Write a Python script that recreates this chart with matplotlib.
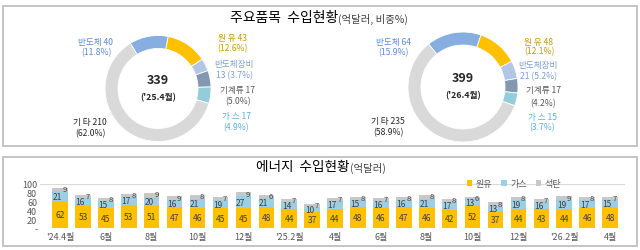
import matplotlib
matplotlib.use("Agg")
import matplotlib.pyplot as plt
from matplotlib.patches import Rectangle

plt.rcParams['font.family'] = ['Noto Sans CJK KR', 'DejaVu Sans']

# --- data: major import items (억달러, 비중%) ---
item_names = ["원 유", "반도체장비", "기계류", "가 스", "기 타", "반도체"]
item_colors = ["#FFC000", "#B4C6E7", "#8497B0", "#92CDDC", "#D9D9D9", "#86AEE0"]
label_colors = ["#C99A06", "#7F9FD0", "#595959", "#5BB0D8", "#262626", "#5B8BD0"]

vals_25 = [43, 13, 17, 17, 210, 40]
pct_25 = [12.6, 3.7, 5.0, 4.9, 62.0, 11.8]
total_25 = 339
period_25 = "('25.4월)"

vals_26 = [48, 21, 17, 15, 235, 64]
pct_26 = [12.1, 5.2, 4.2, 3.7, 58.9, 15.9]
total_26 = 399
period_26 = "('26.4월)"

# --- data: energy imports (억달러) ---
months = ["'24.4월", "5월", "6월", "7월", "8월", "9월", "10월", "11월", "12월",
          "1월", "'25.2월", "3월", "4월", "5월", "6월", "7월", "8월", "9월", "10월",
          "11월", "12월", "1월", "'26.2월", "3월", "4월"]
oil = [62, 53, 45, 53, 51, 47, 46, 45, 45, 48, 44, 37, 44, 48, 46, 47, 46, 42, 52,
       37, 44, 43, 44, 46, 48]
gas = [21, 16, 15, 17, 20, 16, 21, 19, 27, 21, 14, 10, 17, 15, 16, 16, 21, 17, 13,
       13, 19, 16, 19, 17, 15]
coal = [9, 7, 8, 8, 9, 9, 8, 7, 9, 6, 7, 7, 7, 8, 7, 8, 8, 8, 6, 8, 8, 7, 9, 8, 7]

W, H = 640, 251
fig = plt.figure(figsize=(W / 100, H / 100), dpi=100)


def px_axes(x0, y0, w, h):
    return fig.add_axes([x0 / W, 1 - (y0 + h) / H, w / W, h / H])


bg = px_axes(0, 0, W, H)
bg.set_xlim(0, W)
bg.set_ylim(H, 0)
bg.axis("off")
bg.add_patch(Rectangle((3, 7), 634, 140, fill=False, ec="#BFBFBF", lw=1.3))
bg.add_patch(Rectangle((3, 158), 634, 89, fill=False, ec="#BFBFBF", lw=1.3))

# titles
bg.text(338, 18, "주요품목  수입현황", ha="right", va="center", fontsize=10)
bg.text(338, 19, "(억달러, 비중%)", ha="left", va="center", fontsize=7.5, color="#404040")
bg.text(350, 167, "에너지  수입현황", ha="right", va="center", fontsize=9.8)
bg.text(350, 168, "(억달러)", ha="left", va="center", fontsize=7.5, color="#404040")


def donut(cx, cy, R, start, vals, pcts, total, period, label_pos):
    ax = px_axes(cx - 64, cy - 64, 128, 128)
    ax.pie(vals, radius=R, startangle=start, counterclock=False,
           colors=item_colors,
           wedgeprops=dict(width=13, edgecolor="white", linewidth=0.6))
    ax.set_xlim(-64, 64)
    ax.set_ylim(-64, 64)
    ax.set_aspect("equal")
    bg.text(cx, cy - 9, str(total), ha="center", va="center", fontsize=9,
            fontweight="bold", color="#262626")
    bg.text(cx, cy + 8, period, ha="center", va="center", fontsize=6.3,
            fontweight="bold", color="#262626")
    for name, v, p, c, (x, y1, y2) in zip(item_names, vals, pcts, label_colors, label_pos):
        if name == "반도체장비":
            l1, l2 = name, f"{v} ({p:.1f}%)"
        else:
            l1, l2 = f"{name} {v}", f"({p:.1f}%)"
        bg.text(x, y1, l1, ha="center", va="center", fontsize=6.2, color=c)
        bg.text(x, y2, l2, ha="center", va="center", fontsize=6.2, color=c)


donut(158, 89.5, 53, 79, vals_25, pct_25, total_25, period_25,
      [(232, 38, 49), (234, 64, 76), (238, 91, 102), (236, 117, 128),
       (90, 123, 134), (96, 43, 53)])
donut(463, 88, 55, 71, vals_26, pct_26, total_26, period_26,
      [(539, 42, 52), (538, 66, 77), (543, 91, 104), (542, 118, 128),
       (388, 122, 133), (393, 43, 53)])

# --- energy bar chart ---
ax = px_axes(40, 185, 585, 44)
x = list(range(len(months)))
bw = 0.68
b1 = ax.bar(x, oil, bw, color="#FFC000", label="원유")
b2 = ax.bar(x, gas, bw, bottom=oil, color="#9DCFE4", label="가스")
bot2 = [o + g for o, g in zip(oil, gas)]
b3 = ax.bar(x, coal, bw, bottom=bot2, color="#C8C8C8", label="석탄")
for i in x:
    ax.text(i, oil[i] / 2, str(oil[i]), ha="center", va="center", fontsize=6,
            color="#404040")
    ax.text(i - 0.12, oil[i] + gas[i] / 2, str(gas[i]), ha="center", va="center",
            fontsize=6, color="#404040")
    ax.text(i + 0.2, bot2[i] + coal[i] / 2 + 1, str(coal[i]), ha="center",
            va="center", fontsize=5.5, color="#404040")
ax.set_xlim(-0.873, 24.65)
ax.set_ylim(0, 100)
ax.axhline(100, color="#D9D9D9", lw=0.8, zorder=0)
ax.set_yticks([0, 20, 40, 60, 80, 100])
ax.set_yticklabels(["-", "20", "40", "60", "80", "100"])
ax.set_xticks(x[::2])
ax.set_xticklabels(months[::2])
ax.tick_params(length=0, labelsize=6.5, labelcolor="#595959", pad=3)
ax.tick_params(axis="y", pad=2)
for s in ax.spines.values():
    s.set_visible(False)
ax.patch.set_alpha(0)
ax.legend(loc="center", bbox_to_anchor=(0.81, 1.0), ncol=3, frameon=False,
          fontsize=6.5, labelcolor="#595959", handlelength=0.6, handleheight=0.6,
          handletextpad=0.4, columnspacing=1.0, borderpad=0)

fig.savefig("out.png", dpi=100)
